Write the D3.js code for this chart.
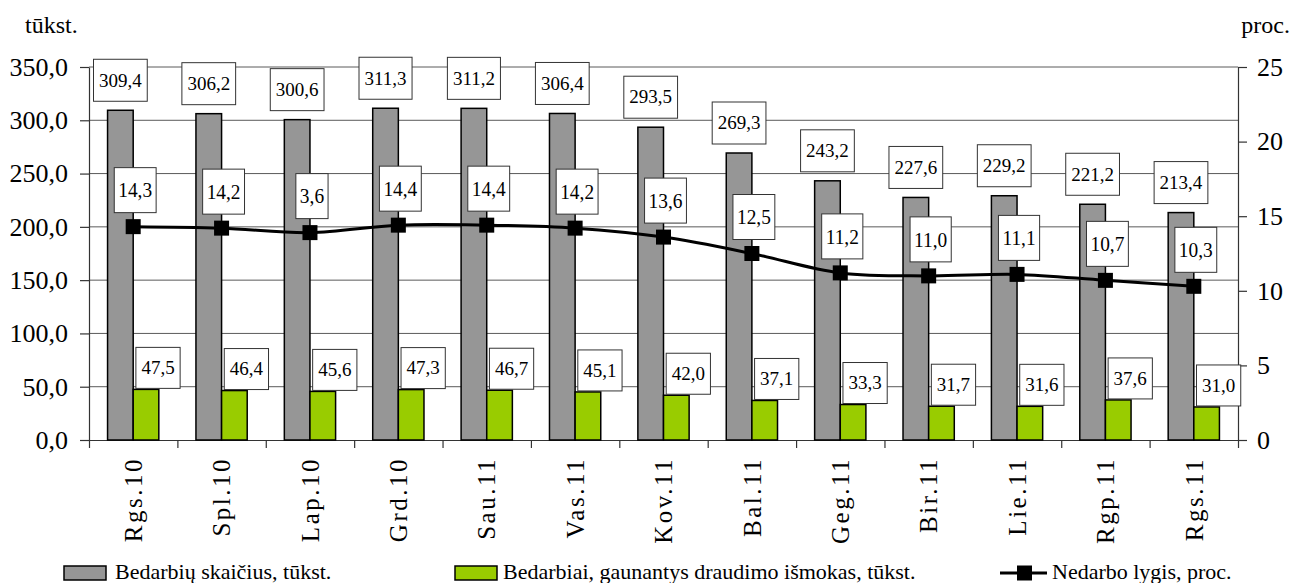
<!DOCTYPE html>
<html>
<head>
<meta charset="utf-8">
<script src="https://cdnjs.cloudflare.com/ajax/libs/d3/7.8.5/d3.min.js"></script>
</head>
<body style="margin:0">
<svg id="chart" width="1295" height="583"></svg>
<script>
// chart values
var months     = ["Rgs.10", "Spl.10", "Lap.10", "Grd.10", "Sau.11", "Vas.11", "Kov.11",
                  "Bal.11", "Geg.11", "Bir.11", "Lie.11", "Rgp.11", "Rgs.11"];
var unemployed = [309.4, 306.2, 300.6, 311.3, 311.2, 306.4, 293.5, 269.3, 243.2, 227.6, 229.2, 221.2, 213.4];
var insured    = [47.5, 46.4, 45.6, 47.3, 46.7, 45.1, 42.0, 37.1, 33.3, 31.7, 31.6, 37.6, 31.0];
var rate       = [14.3, 14.2, 13.9, 14.4, 14.4, 14.2, 13.6, 12.5, 11.2, 11.0, 11.1, 10.7, 10.3];
var rateLabels = ["14,3", "14,2", "3,6", "14,4", "14,4", "14,2", "13,6", "12,5", "11,2", "11,0", "11,1", "10,7", "10,3"];
var leftTicks  = [0, 50, 100, 150, 200, 250, 300, 350];
var rightTicks = [0, 5, 10, 15, 20, 25];
var seriesNames = ["Bedarbių skaičius, tūkst.", "Bedarbiai, gaunantys draudimo išmokas, tūkst.", "Nedarbo lygis, proc."];

var FONT = "Liberation Serif";
var W = 1295, H = 583;
var margin = {top: 67, right: 57, bottom: 143, left: 89};
var plotW = W - margin.left - margin.right,
    plotH = H - margin.top - margin.bottom;

var fmt = function (v) { return d3.format(".1f")(v).replace(".", ","); };

var svg = d3.select("#chart");

var g = svg.append("g")
    .attr("transform", "translate(" + margin.left + "," + margin.top + ")");

// scales
var x = d3.scaleBand().domain(months).range([0, plotW]);
var xEdge = d3.scaleLinear().domain([0, months.length]).range([0, plotW]);
var inner = d3.scaleBand().domain(["a", "b"]).range([-x.bandwidth() * 0.29, x.bandwidth() * 0.29]);
var yL = d3.scaleLinear().domain([0, 350]).range([plotH, 0]);
var yR = d3.scaleLinear().domain([0, 25]).range([plotH, 0]);
var cx = function (i) { return x(months[i]) + x.bandwidth() / 2; };

// gridlines
g.append("g").selectAll("line")
  .data(leftTicks.slice(1))
  .enter().append("line")
    .attr("x1", 0).attr("x2", plotW)
    .attr("y1", function (d) { return yL(d); })
    .attr("y2", function (d) { return yL(d); })
    .attr("stroke", "#5a5a5a")
    .attr("stroke-width", 1);

// axes
var leftAxis = g.append("g")
  .call(d3.axisLeft(yL).tickValues(leftTicks).tickFormat(fmt).tickSize(9).tickPadding(12).tickSizeOuter(0));
var rightAxis = g.append("g")
  .attr("transform", "translate(" + plotW + ",0)")
  .call(d3.axisRight(yR).tickValues(rightTicks).tickFormat(d3.format("d")).tickSize(9).tickPadding(10).tickSizeOuter(0));
var bottomAxis = g.append("g")
  .attr("transform", "translate(0," + plotH + ")")
  .call(d3.axisBottom(xEdge).tickValues(d3.range(months.length + 1)).tickFormat("").tickSize(8).tickSizeOuter(0));

[leftAxis, rightAxis, bottomAxis].forEach(function (a) {
  a.attr("font-family", null).attr("font-size", null);
  a.selectAll("path, line").attr("stroke", "#333").attr("stroke-width", 1.2);
  a.selectAll("text").attr("fill", "#000").style("font-family", FONT).attr("font-size", 26);
});

// category labels (rotated)
g.append("g").selectAll("text")
  .data(months)
  .enter().append("text")
    .attr("transform", function (d) {
      return "translate(" + (x(d) + x.bandwidth() / 2) + "," + (plotH + 17) + ") rotate(-90)";
    })
    .attr("text-anchor", "end")
    .attr("dy", "0.35em")
    .style("font-family", FONT)
    .attr("font-size", 25)
    .attr("letter-spacing", 2.5)
    .text(function (d) { return d; });

// bars
var bars = g.append("g");
bars.selectAll("rect.grey")
  .data(unemployed)
  .enter().append("rect")
    .attr("class", "grey")
    .attr("x", function (d, i) { return cx(i) + inner("a"); })
    .attr("y", function (d) { return yL(d); })
    .attr("width", inner.bandwidth())
    .attr("height", function (d) { return plotH - yL(d); })
    .attr("fill", "#969696")
    .attr("stroke", "#000")
    .attr("stroke-width", 1.5);

bars.selectAll("rect.green")
  .data(insured)
  .enter().append("rect")
    .attr("class", "green")
    .attr("x", function (d, i) { return cx(i) + inner("b"); })
    .attr("y", function (d) { return yL(d); })
    .attr("width", inner.bandwidth())
    .attr("height", function (d) { return plotH - yL(d); })
    .attr("fill", "#99cc00")
    .attr("stroke", "#000")
    .attr("stroke-width", 1.5);

// unemployment rate line
var line = d3.line()
  .x(function (d, i) { return cx(i); })
  .y(function (d) { return yR(d); })
  .curve(d3.curveCatmullRom.alpha(0.5));

g.append("path")
  .datum(rate)
  .attr("d", line)
  .attr("fill", "none")
  .attr("stroke", "#000")
  .attr("stroke-width", 3);

g.append("g").selectAll("rect")
  .data(rate)
  .enter().append("rect")
    .attr("x", function (d, i) { return cx(i) - 7.5; })
    .attr("y", function (d) { return yR(d) - 7.5; })
    .attr("width", 15)
    .attr("height", 15)
    .attr("fill", "#000");

// boxed data labels
function boxLabel(parent, txt, centerX, bottomY, fontSize, scaleX, padX, boxH) {
  var lg = parent.append("g");
  var rect = lg.append("rect");
  var t = lg.append("text")
    .style("font-family", FONT)
    .attr("font-size", fontSize)
    .attr("text-anchor", "middle")
    .text(txt);
  var w = t.node().getComputedTextLength() * scaleX + padX;
  rect.attr("x", centerX - w / 2)
    .attr("y", bottomY - boxH)
    .attr("width", w)
    .attr("height", boxH)
    .attr("fill", "#fff")
    .attr("stroke", "#333")
    .attr("stroke-width", 1);
  t.attr("transform", "translate(" + centerX + "," + (bottomY - boxH / 2 + fontSize * 0.33) + ") scale(" + scaleX + ",1)");
}

var labels = g.append("g");
unemployed.forEach(function (v, i) {
  boxLabel(labels, fmt(v), cx(i) + inner("a") + inner.bandwidth() / 2, yL(v) - 9, 19, 1, 11, 42);
});
insured.forEach(function (v, i) {
  boxLabel(labels, fmt(v), cx(i) + inner("b") + inner.bandwidth() / 2 + 12, yL(v) - 1, 19, 1, 11, 41);
});
rate.forEach(function (v, i) {
  boxLabel(labels, rateLabels[i], cx(i) + 2, yR(v) - 14, 22, 0.88, 8, 45);
});

// axis titles
svg.append("text").attr("x", 25).attr("y", 33).style("font-family", FONT).attr("font-size", 24).text("tūkst.");
svg.append("text").attr("x", 1290).attr("y", 33).attr("text-anchor", "end")
  .style("font-family", FONT).attr("font-size", 24).text("proc.");

// legend
var legend = svg.append("g").attr("transform", "translate(0,573)");
legend.append("rect").attr("x", 64).attr("y", -7).attr("width", 42).attr("height", 14)
  .attr("fill", "#969696").attr("stroke", "#000").attr("stroke-width", 1.5);
legend.append("rect").attr("x", 455).attr("y", -7).attr("width", 42).attr("height", 14)
  .attr("fill", "#99cc00").attr("stroke", "#000").attr("stroke-width", 1.5);
legend.append("line").attr("x1", 1000).attr("x2", 1047).attr("y1", 0).attr("y2", 0)
  .attr("stroke", "#000").attr("stroke-width", 3);
legend.append("rect").attr("x", 1017).attr("y", -7.5).attr("width", 15).attr("height", 15).attr("fill", "#000");
legend.selectAll("text")
  .data(seriesNames)
  .enter().append("text")
    .attr("x", function (d, i) { return [115, 503, 1052][i]; })
    .attr("y", 6)
    .style("font-family", FONT)
    .attr("font-size", 22)
    .text(function (d) { return d; });
</script>
</body>
</html>
